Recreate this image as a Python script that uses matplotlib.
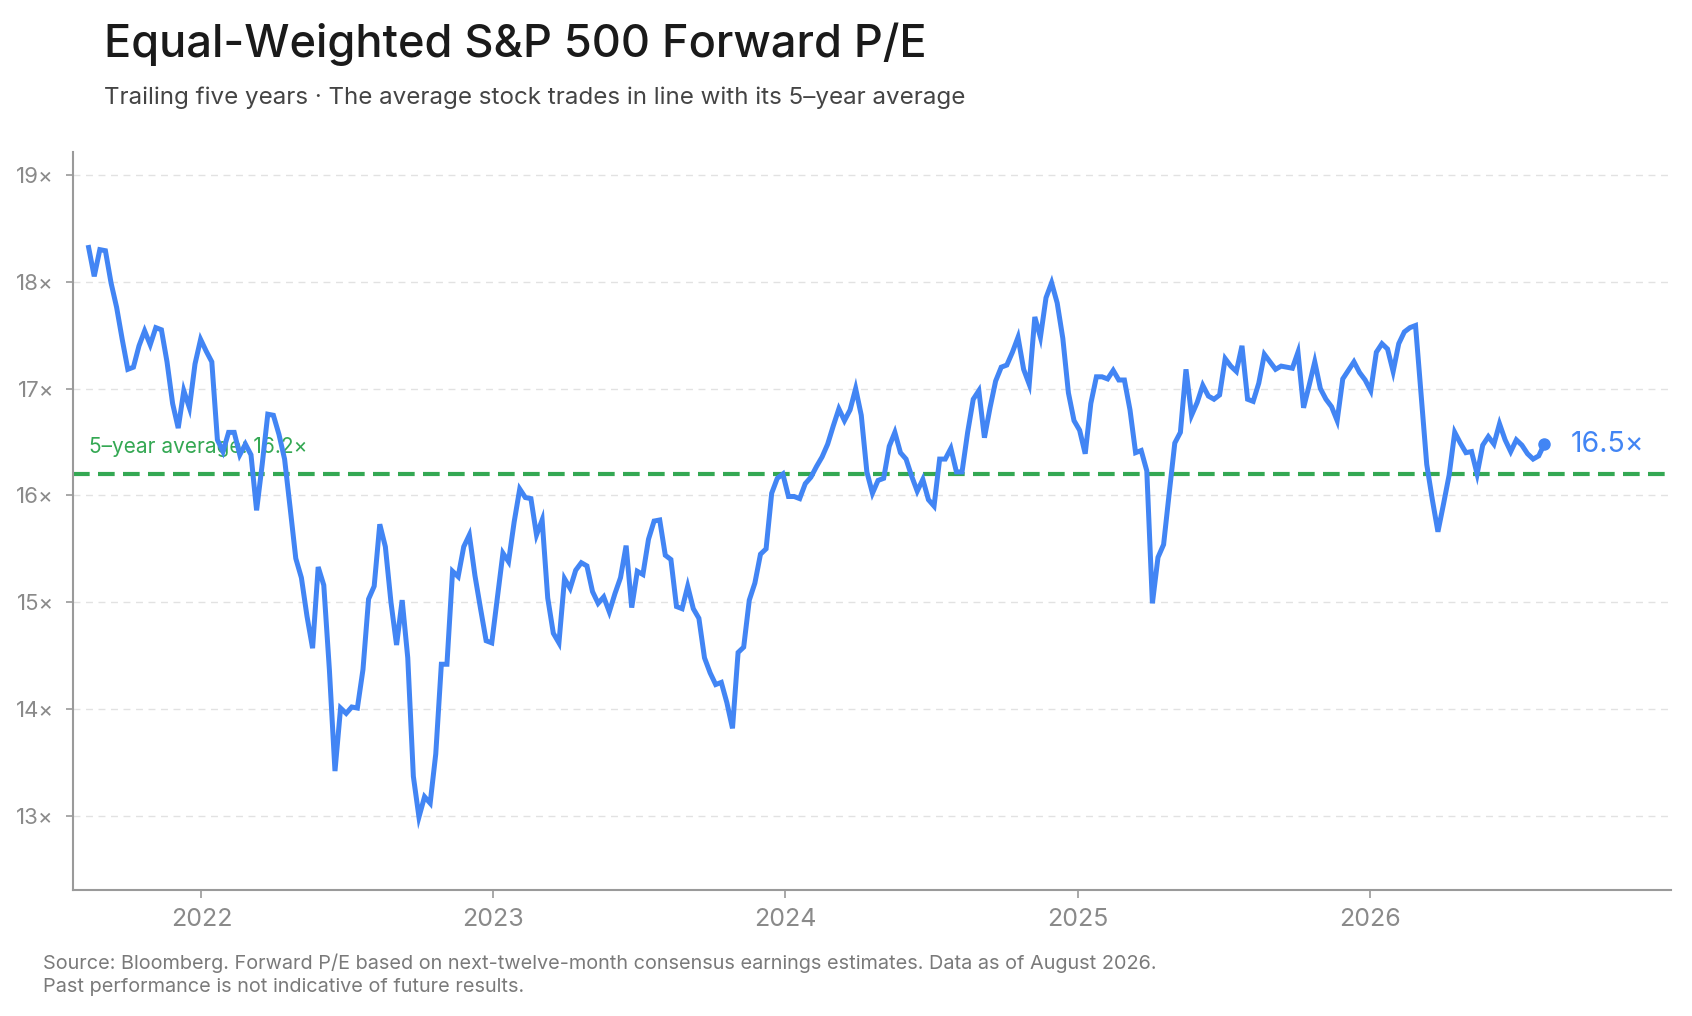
import numpy as np
import pandas as pd
import matplotlib
matplotlib.use("Agg")
import matplotlib.pyplot as plt
import matplotlib.dates as mdates

plt.rcParams['font.family'] = ['Inter', 'DejaVu Sans']

# weekly readings, Aug 2021 -> Aug 2026
start_date = "2021-08-13"
pe_2021_22 = [18.32, 18.05, 18.30, 18.29, 17.99, 17.76, 17.46, 17.18, 17.20, 17.40,
              17.54, 17.41, 17.57, 17.55, 17.25, 16.86, 16.63, 16.98, 16.82, 17.23,
              17.46, 17.35, 17.25, 16.52, 16.41, 16.59, 16.59, 16.38, 16.48, 16.38,
              15.86, 16.29, 16.76, 16.75, 16.57, 16.34, 15.88, 15.41, 15.23, 14.87,
              14.57, 15.33, 15.16, 14.37, 13.42, 14.01, 13.96, 14.02, 14.01, 14.37,
              15.03, 15.15, 15.73, 15.52, 15.00, 14.60, 15.02, 14.48, 13.37, 12.99,
              13.18, 13.12, 13.58, 14.42, 14.42, 15.29, 15.24, 15.52, 15.63]
pe_2023_24 = [15.25, 14.94, 14.64, 14.62, 15.04, 15.46, 15.38, 15.75, 16.06, 15.98,
              15.97, 15.63, 15.77, 15.04, 14.71, 14.62, 15.22, 15.13, 15.30, 15.37,
              15.34, 15.10, 14.99, 15.05, 14.91, 15.08, 15.23, 15.53, 14.95, 15.29,
              15.26, 15.59, 15.76, 15.77, 15.44, 15.40, 14.96, 14.94, 15.15, 14.94,
              14.85, 14.48, 14.34, 14.23, 14.25, 14.06, 13.82, 14.53, 14.58, 15.02,
              15.18, 15.45, 15.50, 16.02, 16.16, 16.20, 15.99, 15.99, 15.97, 16.11,
              16.17, 16.27, 16.36, 16.48, 16.65, 16.81, 16.70, 16.80, 17.00, 16.75,
              16.22, 16.02]
pe_2024_25 = [16.14, 16.16, 16.46, 16.59, 16.40, 16.34, 16.18, 16.04, 16.15, 15.96,
              15.90, 16.34, 16.34, 16.44, 16.22, 16.22, 16.59, 16.90, 16.98, 16.54,
              16.82, 17.07, 17.20, 17.22, 17.34, 17.48, 17.18, 17.04, 17.67, 17.48,
              17.85, 17.99, 17.80, 17.47, 16.96, 16.70, 16.61, 16.39, 16.86, 17.11,
              17.11, 17.09, 17.17, 17.08, 17.08, 16.80, 16.40, 16.42, 16.23, 14.99,
              15.42, 15.54, 16.02, 16.49, 16.59, 17.18, 16.75, 16.87, 17.03, 16.93,
              16.90, 16.94, 17.28, 17.21, 17.16, 17.40, 16.90, 16.88, 17.05, 17.32,
              17.25, 17.18]
pe_2025_26 = [17.21, 17.20, 17.19, 17.34, 16.82, 17.03, 17.25, 17.00, 16.90, 16.83,
              16.70, 17.09, 17.17, 17.25, 17.15, 17.08, 16.98, 17.34, 17.42, 17.37,
              17.16, 17.42, 17.53, 17.57, 17.59, 16.94, 16.29, 15.96, 15.66, 15.92,
              16.19, 16.59, 16.49, 16.40, 16.41, 16.20, 16.47, 16.55, 16.48, 16.67,
              16.52, 16.41, 16.52, 16.47, 16.39, 16.34, 16.37, 16.48]

pe = pe_2021_22 + pe_2023_24 + pe_2024_25 + pe_2025_26
dates = pd.date_range(start_date, periods=len(pe), freq="W-FRI")

avg_5y = 16.2
y_ticks = [13, 14, 15, 16, 17, 18, 19]
x_years = [2022, 2023, 2024, 2025, 2026]

blue = "#4285f4"
green = "#34a853"

fig = plt.figure(figsize=(16.92, 10.16), dpi=100)
ax = fig.add_axes([0.0434, 0.1243, 0.944, 0.7257])

ax.plot(dates, pe, color=blue, lw=3.6, zorder=3, solid_joinstyle="miter")
ax.plot(dates[-1], pe[-1], "o", color=blue, ms=8, zorder=4)
ax.axhline(avg_5y, color=green, lw=3, ls=(0, (4, 2)), zorder=2)

for v in y_ticks:
    ax.axhline(v, color="#e2e2e2", lw=1, ls=(0, (5, 4)), zorder=0)

ax.text(dates[0], 16.40, "5–year average: 16.2×", color=green, fontsize=15,
        va="baseline", ha="left", zorder=1)
ax.annotate(f"{pe[-1]:.1f}×", xy=(dates[-1], pe[-1]), xytext=(19, 0),
            textcoords="offset points", color=blue, fontsize=20.5, va="center")

ax.set_ylim(12.31, 19.21)
ax.set_xlim(pd.Timestamp("2021-07-25"), pd.Timestamp("2027-01-12"))
ax.set_yticks(y_ticks)
ax.set_yticklabels([f"{v}×" for v in y_ticks])
ax.set_xticks([pd.Timestamp(f"{y}-01-01") for y in x_years])
ax.set_xticklabels([str(y) for y in x_years])

for s in ["top", "right"]:
    ax.spines[s].set_visible(False)
for s in ["left", "bottom"]:
    ax.spines[s].set_color("#9a9a9a")
    ax.spines[s].set_linewidth(1.5)
ax.tick_params(axis="y", length=5, width=1.2, color="#9a9a9a", labelcolor="#8a8a8a",
               labelsize=16, pad=9)
ax.tick_params(axis="x", length=6, width=1.2, color="#9a9a9a", labelcolor="#8a8a8a",
               labelsize=18, pad=7)

fig.text(0.0615, 0.944, "Equal-Weighted S&P 500 Forward P/E", fontsize=32.5,
         fontweight="medium", color="#1a1a1a", va="baseline")
fig.text(0.0615, 0.898, "Trailing five years · The average stock trades in line with its 5–year average",
         fontsize=17.4, color="#444444", va="baseline")
fig.text(0.0256, 0.0463, "Source: Bloomberg. Forward P/E based on next-twelve-month consensus earnings "
         "estimates. Data as of August 2026.", fontsize=14.3, color="#7a7a7a", va="baseline")
fig.text(0.0256, 0.0232, "Past performance is not indicative of future results.",
         fontsize=14.3, color="#7a7a7a", va="baseline")

fig.savefig("out.png", dpi=100)
